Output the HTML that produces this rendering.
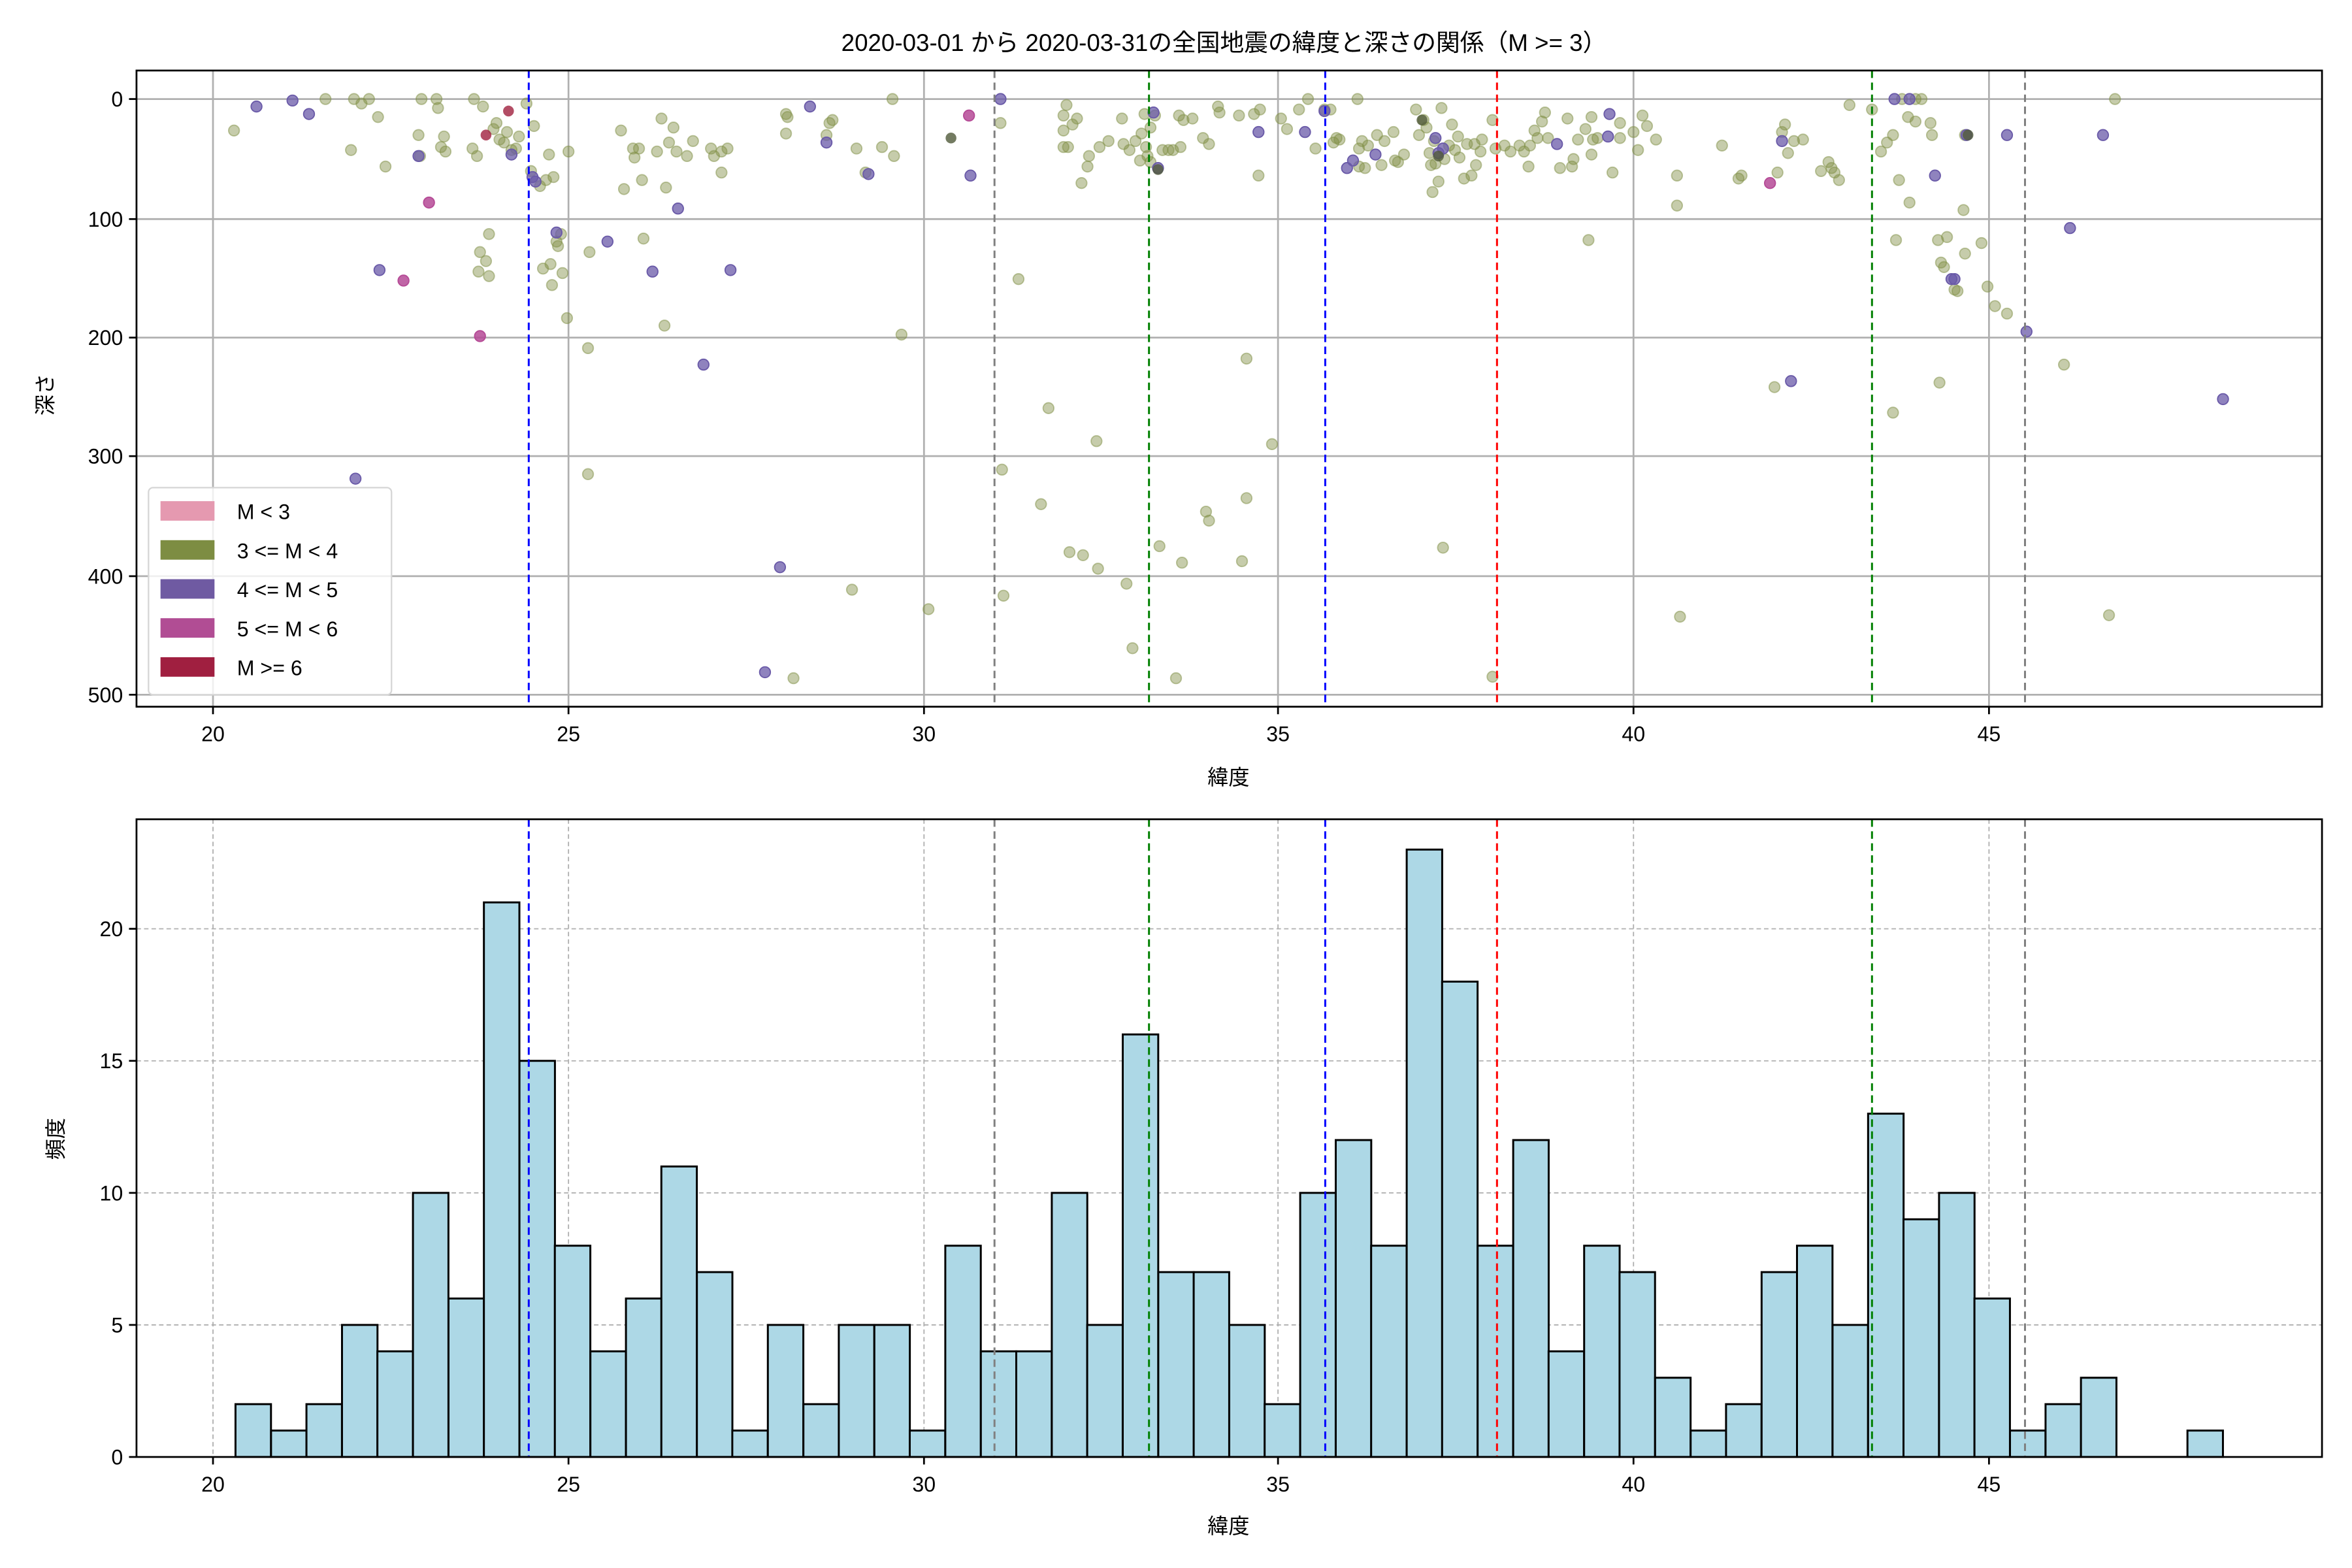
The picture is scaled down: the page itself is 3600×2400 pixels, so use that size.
<!DOCTYPE html>
<html><head><meta charset="utf-8"><style>
html,body{margin:0;padding:0;background:#fff;}
svg{display:block;}
text{font-family:"Liberation Sans","Noto Sans CJK JP",sans-serif;fill:#000;}
</style></head><body>
<svg width="3600" height="2400" viewBox="0 0 1568 1045" preserveAspectRatio="none" xmlns="http://www.w3.org/2000/svg">
<rect width="1568" height="1045" fill="#fff"/>
<text x="816" y="34" font-size="16" text-anchor="middle">2020-03-01 から 2020-03-31の全国地震の緯度と深さの関係（M &gt;= 3）</text>
<!-- TOP grid -->
<g stroke="#b0b0b0" stroke-width="1.2">
<line x1="142" y1="47" x2="142" y2="471"/><line x1="379" y1="47" x2="379" y2="471"/><line x1="616" y1="47" x2="616" y2="471"/><line x1="852" y1="47" x2="852" y2="471"/><line x1="1089" y1="47" x2="1089" y2="471"/><line x1="1326" y1="47" x2="1326" y2="471"/>
<line x1="91" y1="66" x2="1548" y2="66"/><line x1="91" y1="146" x2="1548" y2="146"/><line x1="91" y1="225" x2="1548" y2="225"/><line x1="91" y1="304" x2="1548" y2="304"/><line x1="91" y1="384" x2="1548" y2="384"/><line x1="91" y1="463" x2="1548" y2="463"/>
</g>
<g fill="#808f45" fill-opacity="0.45" stroke="#808f45" stroke-opacity="0.5" stroke-width="0.8">
<circle cx="156" cy="87" r="3.6"/><circle cx="217" cy="66" r="3.6"/><circle cx="234" cy="100" r="3.6"/><circle cx="236" cy="66" r="3.6"/><circle cx="241" cy="69" r="3.6"/><circle cx="246" cy="66" r="3.6"/><circle cx="252" cy="78" r="3.6"/><circle cx="257" cy="111" r="3.6"/><circle cx="279" cy="90" r="3.6"/><circle cx="281" cy="66" r="3.6"/><circle cx="280" cy="104" r="3.6"/><circle cx="291" cy="66" r="3.6"/><circle cx="292" cy="72" r="3.6"/><circle cx="296" cy="91" r="3.6"/><circle cx="297" cy="101" r="3.6"/><circle cx="294" cy="98" r="3.6"/><circle cx="316" cy="66" r="3.6"/><circle cx="315" cy="99" r="3.6"/><circle cx="318" cy="104" r="3.6"/><circle cx="322" cy="71" r="3.6"/><circle cx="320" cy="168" r="3.6"/><circle cx="319" cy="181" r="3.6"/><circle cx="324" cy="174" r="3.6"/><circle cx="326" cy="156" r="3.6"/><circle cx="326" cy="184" r="3.6"/><circle cx="329" cy="86" r="3.6"/><circle cx="331" cy="82" r="3.6"/><circle cx="333" cy="93" r="3.6"/><circle cx="336" cy="95" r="3.6"/><circle cx="338" cy="88" r="3.6"/><circle cx="341" cy="100" r="3.6"/><circle cx="344" cy="99" r="3.6"/><circle cx="346" cy="91" r="3.6"/><circle cx="351" cy="69" r="3.6"/><circle cx="356" cy="84" r="3.6"/><circle cx="354" cy="114" r="3.6"/><circle cx="360" cy="124" r="3.6"/><circle cx="362" cy="179" r="3.6"/><circle cx="364" cy="120" r="3.6"/><circle cx="366" cy="103" r="3.6"/><circle cx="367" cy="176" r="3.6"/><circle cx="368" cy="190" r="3.6"/><circle cx="369" cy="118" r="3.6"/><circle cx="371" cy="161" r="3.6"/><circle cx="372" cy="164" r="3.6"/><circle cx="374" cy="156" r="3.6"/><circle cx="375" cy="182" r="3.6"/><circle cx="379" cy="101" r="3.6"/><circle cx="392" cy="232" r="3.6"/><circle cx="393" cy="168" r="3.6"/><circle cx="378" cy="212" r="3.6"/><circle cx="392" cy="316" r="3.6"/><circle cx="414" cy="87" r="3.6"/><circle cx="416" cy="126" r="3.6"/><circle cx="422" cy="99" r="3.6"/><circle cx="423" cy="105" r="3.6"/><circle cx="426" cy="99" r="3.6"/><circle cx="429" cy="159" r="3.6"/><circle cx="428" cy="120" r="3.6"/><circle cx="438" cy="101" r="3.6"/><circle cx="441" cy="79" r="3.6"/><circle cx="443" cy="217" r="3.6"/><circle cx="444" cy="125" r="3.6"/><circle cx="446" cy="95" r="3.6"/><circle cx="449" cy="85" r="3.6"/><circle cx="451" cy="101" r="3.6"/><circle cx="458" cy="104" r="3.6"/><circle cx="462" cy="94" r="3.6"/><circle cx="474" cy="99" r="3.6"/><circle cx="476" cy="104" r="3.6"/><circle cx="481" cy="101" r="3.6"/><circle cx="485" cy="99" r="3.6"/><circle cx="481" cy="115" r="3.6"/><circle cx="524" cy="76" r="3.6"/><circle cx="524" cy="89" r="3.6"/><circle cx="525" cy="78" r="3.6"/><circle cx="551" cy="90" r="3.6"/><circle cx="553" cy="82" r="3.6"/><circle cx="555" cy="80" r="3.6"/><circle cx="571" cy="99" r="3.6"/><circle cx="577" cy="115" r="3.6"/><circle cx="588" cy="98" r="3.6"/><circle cx="595" cy="66" r="3.6"/><circle cx="596" cy="104" r="3.6"/><circle cx="568" cy="393" r="3.6"/><circle cx="601" cy="223" r="3.6"/><circle cx="619" cy="406" r="3.6"/><circle cx="529" cy="452" r="3.6"/><circle cx="667" cy="82" r="3.6"/><circle cx="668" cy="313" r="3.6"/><circle cx="669" cy="397" r="3.6"/><circle cx="679" cy="186" r="3.6"/><circle cx="699" cy="272" r="3.6"/><circle cx="694" cy="336" r="3.6"/><circle cx="709" cy="77" r="3.6"/><circle cx="709" cy="98" r="3.6"/><circle cx="709" cy="87" r="3.6"/><circle cx="711" cy="70" r="3.6"/><circle cx="712" cy="98" r="3.6"/><circle cx="715" cy="83" r="3.6"/><circle cx="718" cy="79" r="3.6"/><circle cx="721" cy="122" r="3.6"/><circle cx="725" cy="111" r="3.6"/><circle cx="726" cy="104" r="3.6"/><circle cx="733" cy="98" r="3.6"/><circle cx="739" cy="94" r="3.6"/><circle cx="748" cy="79" r="3.6"/><circle cx="749" cy="96" r="3.6"/><circle cx="753" cy="100" r="3.6"/><circle cx="757" cy="94" r="3.6"/><circle cx="760" cy="107" r="3.6"/><circle cx="761" cy="89" r="3.6"/><circle cx="763" cy="76" r="3.6"/><circle cx="764" cy="98" r="3.6"/><circle cx="765" cy="104" r="3.6"/><circle cx="767" cy="108" r="3.6"/><circle cx="767" cy="85" r="3.6"/><circle cx="770" cy="77" r="3.6"/><circle cx="775" cy="100" r="3.6"/><circle cx="779" cy="100" r="3.6"/><circle cx="782" cy="100" r="3.6"/><circle cx="786" cy="77" r="3.6"/><circle cx="789" cy="80" r="3.6"/><circle cx="787" cy="98" r="3.6"/><circle cx="795" cy="79" r="3.6"/><circle cx="802" cy="92" r="3.6"/><circle cx="806" cy="96" r="3.6"/><circle cx="812" cy="71" r="3.6"/><circle cx="813" cy="75" r="3.6"/><circle cx="826" cy="77" r="3.6"/><circle cx="836" cy="76" r="3.6"/><circle cx="839" cy="117" r="3.6"/><circle cx="848" cy="296" r="3.6"/><circle cx="831" cy="239" r="3.6"/><circle cx="831" cy="332" r="3.6"/><circle cx="806" cy="347" r="3.6"/><circle cx="804" cy="341" r="3.6"/><circle cx="828" cy="374" r="3.6"/><circle cx="788" cy="375" r="3.6"/><circle cx="773" cy="364" r="3.6"/><circle cx="751" cy="389" r="3.6"/><circle cx="732" cy="379" r="3.6"/><circle cx="722" cy="370" r="3.6"/><circle cx="713" cy="368" r="3.6"/><circle cx="731" cy="294" r="3.6"/><circle cx="755" cy="432" r="3.6"/><circle cx="784" cy="452" r="3.6"/><circle cx="840" cy="73" r="3.6"/><circle cx="854" cy="79" r="3.6"/><circle cx="858" cy="86" r="3.6"/><circle cx="866" cy="73" r="3.6"/><circle cx="872" cy="66" r="3.6"/><circle cx="877" cy="99" r="3.6"/><circle cx="883" cy="73" r="3.6"/><circle cx="887" cy="73" r="3.6"/><circle cx="889" cy="95" r="3.6"/><circle cx="891" cy="92" r="3.6"/><circle cx="893" cy="93" r="3.6"/><circle cx="905" cy="66" r="3.6"/><circle cx="906" cy="99" r="3.6"/><circle cx="906" cy="111" r="3.6"/><circle cx="908" cy="94" r="3.6"/><circle cx="910" cy="112" r="3.6"/><circle cx="912" cy="97" r="3.6"/><circle cx="918" cy="90" r="3.6"/><circle cx="921" cy="110" r="3.6"/><circle cx="923" cy="94" r="3.6"/><circle cx="929" cy="88" r="3.6"/><circle cx="930" cy="107" r="3.6"/><circle cx="932" cy="108" r="3.6"/><circle cx="936" cy="103" r="3.6"/><circle cx="944" cy="73" r="3.6"/><circle cx="946" cy="90" r="3.6"/><circle cx="949" cy="80" r="3.6"/><circle cx="951" cy="85" r="3.6"/><circle cx="953" cy="102" r="3.6"/><circle cx="954" cy="110" r="3.6"/><circle cx="956" cy="94" r="3.6"/><circle cx="957" cy="109" r="3.6"/><circle cx="959" cy="121" r="3.6"/><circle cx="961" cy="72" r="3.6"/><circle cx="963" cy="106" r="3.6"/><circle cx="966" cy="97" r="3.6"/><circle cx="968" cy="83" r="3.6"/><circle cx="970" cy="100" r="3.6"/><circle cx="972" cy="91" r="3.6"/><circle cx="973" cy="105" r="3.6"/><circle cx="976" cy="119" r="3.6"/><circle cx="978" cy="96" r="3.6"/><circle cx="981" cy="117" r="3.6"/><circle cx="983" cy="96" r="3.6"/><circle cx="984" cy="110" r="3.6"/><circle cx="987" cy="101" r="3.6"/><circle cx="988" cy="93" r="3.6"/><circle cx="995" cy="80" r="3.6"/><circle cx="997" cy="99" r="3.6"/><circle cx="1003" cy="97" r="3.6"/><circle cx="1007" cy="101" r="3.6"/><circle cx="1013" cy="97" r="3.6"/><circle cx="1016" cy="101" r="3.6"/><circle cx="1020" cy="97" r="3.6"/><circle cx="1023" cy="87" r="3.6"/><circle cx="1025" cy="92" r="3.6"/><circle cx="1028" cy="81" r="3.6"/><circle cx="1032" cy="92" r="3.6"/><circle cx="1040" cy="112" r="3.6"/><circle cx="1045" cy="79" r="3.6"/><circle cx="1048" cy="111" r="3.6"/><circle cx="1049" cy="106" r="3.6"/><circle cx="1052" cy="93" r="3.6"/><circle cx="1057" cy="86" r="3.6"/><circle cx="1061" cy="78" r="3.6"/><circle cx="1061" cy="103" r="3.6"/><circle cx="1062" cy="93" r="3.6"/><circle cx="1065" cy="92" r="3.6"/><circle cx="1075" cy="115" r="3.6"/><circle cx="1080" cy="82" r="3.6"/><circle cx="1080" cy="92" r="3.6"/><circle cx="1089" cy="88" r="3.6"/><circle cx="1092" cy="100" r="3.6"/><circle cx="1095" cy="77" r="3.6"/><circle cx="1098" cy="84" r="3.6"/><circle cx="1104" cy="93" r="3.6"/><circle cx="1118" cy="137" r="3.6"/><circle cx="1059" cy="160" r="3.6"/><circle cx="1148" cy="97" r="3.6"/><circle cx="1159" cy="119" r="3.6"/><circle cx="1161" cy="117" r="3.6"/><circle cx="1183" cy="258" r="3.6"/><circle cx="1185" cy="115" r="3.6"/><circle cx="1188" cy="88" r="3.6"/><circle cx="1190" cy="83" r="3.6"/><circle cx="1192" cy="102" r="3.6"/><circle cx="1196" cy="94" r="3.6"/><circle cx="1202" cy="93" r="3.6"/><circle cx="1214" cy="114" r="3.6"/><circle cx="1219" cy="108" r="3.6"/><circle cx="1221" cy="112" r="3.6"/><circle cx="1223" cy="115" r="3.6"/><circle cx="1226" cy="120" r="3.6"/><circle cx="1233" cy="70" r="3.6"/><circle cx="1248" cy="73" r="3.6"/><circle cx="1254" cy="101" r="3.6"/><circle cx="1258" cy="95" r="3.6"/><circle cx="1262" cy="90" r="3.6"/><circle cx="1264" cy="160" r="3.6"/><circle cx="1262" cy="275" r="3.6"/><circle cx="1268" cy="66" r="3.6"/><circle cx="1272" cy="78" r="3.6"/><circle cx="1273" cy="135" r="3.6"/><circle cx="1277" cy="66" r="3.6"/><circle cx="1281" cy="66" r="3.6"/><circle cx="1288" cy="90" r="3.6"/><circle cx="1292" cy="160" r="3.6"/><circle cx="1293" cy="255" r="3.6"/><circle cx="1294" cy="175" r="3.6"/><circle cx="1296" cy="178" r="3.6"/><circle cx="1298" cy="158" r="3.6"/><circle cx="1303" cy="193" r="3.6"/><circle cx="1305" cy="194" r="3.6"/><circle cx="1310" cy="169" r="3.6"/><circle cx="1321" cy="162" r="3.6"/><circle cx="1325" cy="191" r="3.6"/><circle cx="1330" cy="204" r="3.6"/><circle cx="1338" cy="209" r="3.6"/><circle cx="1376" cy="243" r="3.6"/><circle cx="1406" cy="410" r="3.6"/><circle cx="1410" cy="66" r="3.6"/><circle cx="1019" cy="111" r="3.6"/><circle cx="962" cy="365" r="3.6"/><circle cx="955" cy="128" r="3.6"/><circle cx="995" cy="451" r="3.6"/><circle cx="1120" cy="411" r="3.6"/><circle cx="1118" cy="117" r="3.6"/><circle cx="1277" cy="81" r="3.6"/><circle cx="1287" cy="82" r="3.6"/><circle cx="1310" cy="90" r="3.6"/><circle cx="1309" cy="140" r="3.6"/><circle cx="1266" cy="120" r="3.6"/><circle cx="1030" cy="75" r="3.6"/>
</g>
<g fill="#6a5aa8" fill-opacity="0.75" stroke="#6a5aa8" stroke-width="0.8">
<circle cx="171" cy="71" r="3.6"/><circle cx="195" cy="67" r="3.6"/><circle cx="206" cy="76" r="3.6"/><circle cx="253" cy="180" r="3.6"/><circle cx="279" cy="104" r="3.6"/><circle cx="341" cy="103" r="3.6"/><circle cx="355" cy="118" r="3.6"/><circle cx="357" cy="121" r="3.6"/><circle cx="371" cy="155" r="3.6"/><circle cx="405" cy="161" r="3.6"/><circle cx="435" cy="181" r="3.6"/><circle cx="452" cy="139" r="3.6"/><circle cx="469" cy="243" r="3.6"/><circle cx="487" cy="180" r="3.6"/><circle cx="540" cy="71" r="3.6"/><circle cx="551" cy="95" r="3.6"/><circle cx="579" cy="116" r="3.6"/><circle cx="647" cy="117" r="3.6"/><circle cx="667" cy="66" r="3.6"/><circle cx="769" cy="75" r="3.6"/><circle cx="772" cy="112" r="3.6"/><circle cx="839" cy="88" r="3.6"/><circle cx="870" cy="88" r="3.6"/><circle cx="883" cy="74" r="3.6"/><circle cx="898" cy="112" r="3.6"/><circle cx="902" cy="107" r="3.6"/><circle cx="917" cy="103" r="3.6"/><circle cx="957" cy="92" r="3.6"/><circle cx="959" cy="102" r="3.6"/><circle cx="962" cy="99" r="3.6"/><circle cx="1038" cy="96" r="3.6"/><circle cx="1073" cy="76" r="3.6"/><circle cx="1072" cy="91" r="3.6"/><circle cx="1188" cy="94" r="3.6"/><circle cx="1194" cy="254" r="3.6"/><circle cx="1263" cy="66" r="3.6"/><circle cx="1273" cy="66" r="3.6"/><circle cx="1290" cy="117" r="3.6"/><circle cx="1301" cy="186" r="3.6"/><circle cx="1351" cy="221" r="3.6"/><circle cx="1380" cy="152" r="3.6"/><circle cx="1402" cy="90" r="3.6"/><circle cx="1482" cy="266" r="3.6"/><circle cx="237" cy="319" r="3.6"/><circle cx="520" cy="378" r="3.6"/><circle cx="510" cy="448" r="3.6"/><circle cx="1311" cy="90" r="3.6"/><circle cx="1338" cy="90" r="3.6"/><circle cx="1303" cy="186" r="3.6"/>
</g>
<g fill="#b54a96" fill-opacity="0.85" stroke="#b54a96" stroke-width="0.8">
<circle cx="286" cy="135" r="3.6"/><circle cx="269" cy="187" r="3.6"/><circle cx="320" cy="224" r="3.6"/><circle cx="646" cy="77" r="3.6"/><circle cx="1180" cy="122" r="3.6"/>
</g>
<g fill="#a0203f" fill-opacity="0.8"><circle cx="339" cy="74" r="3.6"/><circle cx="324" cy="90" r="3.6"/></g>
<g fill="#505a3a" fill-opacity="0.8"><circle cx="634" cy="92" r="3.6"/><circle cx="772" cy="113" r="3.6"/><circle cx="1312" cy="90" r="3.6"/><circle cx="959" cy="104" r="3.6"/><circle cx="948" cy="80" r="3.6"/></g>
<g stroke-width="1.3" stroke-dasharray="5,3" fill="none">
<line x1="352.5" y1="47" x2="352.5" y2="471" stroke="#0000ff"/><line x1="883.5" y1="47" x2="883.5" y2="471" stroke="#0000ff"/>
<line x1="663" y1="47" x2="663" y2="471" stroke="#808080"/><line x1="1350" y1="47" x2="1350" y2="471" stroke="#808080"/>
<line x1="766" y1="47" x2="766" y2="471" stroke="#008000"/><line x1="1248" y1="47" x2="1248" y2="471" stroke="#008000"/>
<line x1="998" y1="47" x2="998" y2="471" stroke="#ff0000"/>
</g>
<!-- legend -->
<rect x="99" y="325" width="162" height="138" rx="3" fill="#fff" fill-opacity="0.8" stroke="#d6d6d6" stroke-width="1"/>
<rect x="107" y="334" width="36" height="13" fill="#e599b0"/><rect x="107" y="360" width="36" height="13" fill="#7d8d42"/><rect x="107" y="386" width="36" height="13" fill="#6f5aa2"/><rect x="107" y="412" width="36" height="13" fill="#b14d94"/><rect x="107" y="438" width="36" height="13" fill="#a01f40"/>
<g font-size="14"><text x="158" y="346">M &lt; 3</text><text x="158" y="372">3 &lt;= M &lt; 4</text><text x="158" y="398">4 &lt;= M &lt; 5</text><text x="158" y="424">5 &lt;= M &lt; 6</text><text x="158" y="450">M &gt;= 6</text></g>
<rect x="91" y="47" width="1457" height="424" fill="none" stroke="#000" stroke-width="1.2"/>
<g stroke="#000" stroke-width="1.2">
<line x1="142" y1="471" x2="142" y2="476"/><line x1="379" y1="471" x2="379" y2="476"/><line x1="616" y1="471" x2="616" y2="476"/><line x1="852" y1="471" x2="852" y2="476"/><line x1="1089" y1="471" x2="1089" y2="476"/><line x1="1326" y1="471" x2="1326" y2="476"/>
<line x1="86" y1="66" x2="91" y2="66"/><line x1="86" y1="146" x2="91" y2="146"/><line x1="86" y1="225" x2="91" y2="225"/><line x1="86" y1="304" x2="91" y2="304"/><line x1="86" y1="384" x2="91" y2="384"/><line x1="86" y1="463" x2="91" y2="463"/>
</g>
<g font-size="14" text-anchor="middle"><text x="142" y="494">20</text><text x="379" y="494">25</text><text x="616" y="494">30</text><text x="852" y="494">35</text><text x="1089" y="494">40</text><text x="1326" y="494">45</text></g>
<g font-size="14" text-anchor="end"><text x="82" y="71">0</text><text x="82" y="151">100</text><text x="82" y="230">200</text><text x="82" y="309">300</text><text x="82" y="389">400</text><text x="82" y="468">500</text></g>
<text x="819" y="523" font-size="14" text-anchor="middle">緯度</text>
<text transform="translate(35,263) rotate(-90)" font-size="14" text-anchor="middle">深さ</text>
<!-- BOTTOM -->
<g stroke="#b0b0b0" stroke-width="0.8" stroke-dasharray="3,2">
<line x1="142" y1="546" x2="142" y2="971"/><line x1="379" y1="546" x2="379" y2="971"/><line x1="616" y1="546" x2="616" y2="971"/><line x1="852" y1="546" x2="852" y2="971"/><line x1="1089" y1="546" x2="1089" y2="971"/><line x1="1326" y1="546" x2="1326" y2="971"/>
<line x1="91" y1="883" x2="1548" y2="883"/><line x1="91" y1="795" x2="1548" y2="795"/><line x1="91" y1="707" x2="1548" y2="707"/><line x1="91" y1="619" x2="1548" y2="619"/>
</g>
<g fill="#add8e6" stroke="#000" stroke-width="1.3">
<rect x="157.0" y="935.8" width="23.66" height="35.2"/><rect x="180.7" y="953.4" width="23.66" height="17.6"/><rect x="204.3" y="935.8" width="23.66" height="35.2"/><rect x="228.0" y="883.0" width="23.66" height="88.0"/><rect x="251.6" y="900.6" width="23.66" height="70.4"/><rect x="275.3" y="795.0" width="23.66" height="176.0"/><rect x="299.0" y="865.4" width="23.66" height="105.6"/><rect x="322.6" y="601.4" width="23.66" height="369.6"/><rect x="346.3" y="707.0" width="23.66" height="264.0"/><rect x="369.9" y="830.2" width="23.66" height="140.8"/><rect x="393.6" y="900.6" width="23.66" height="70.4"/><rect x="417.3" y="865.4" width="23.66" height="105.6"/><rect x="440.9" y="777.4" width="23.66" height="193.6"/><rect x="464.6" y="847.8" width="23.66" height="123.2"/><rect x="488.2" y="953.4" width="23.66" height="17.6"/><rect x="511.9" y="883.0" width="23.66" height="88.0"/><rect x="535.6" y="935.8" width="23.66" height="35.2"/><rect x="559.2" y="883.0" width="23.66" height="88.0"/><rect x="582.9" y="883.0" width="23.66" height="88.0"/><rect x="606.5" y="953.4" width="23.66" height="17.6"/><rect x="630.2" y="830.2" width="23.66" height="140.8"/><rect x="653.9" y="900.6" width="23.66" height="70.4"/><rect x="677.5" y="900.6" width="23.66" height="70.4"/><rect x="701.2" y="795.0" width="23.66" height="176.0"/><rect x="724.8" y="883.0" width="23.66" height="88.0"/><rect x="748.5" y="689.4" width="23.66" height="281.6"/><rect x="772.2" y="847.8" width="23.66" height="123.2"/><rect x="795.8" y="847.8" width="23.66" height="123.2"/><rect x="819.5" y="883.0" width="23.66" height="88.0"/><rect x="843.1" y="935.8" width="23.66" height="35.2"/><rect x="866.8" y="795.0" width="23.66" height="176.0"/><rect x="890.5" y="759.8" width="23.66" height="211.2"/><rect x="914.1" y="830.2" width="23.66" height="140.8"/><rect x="937.8" y="566.2" width="23.66" height="404.8"/><rect x="961.4" y="654.2" width="23.66" height="316.8"/><rect x="985.1" y="830.2" width="23.66" height="140.8"/><rect x="1008.8" y="759.8" width="23.66" height="211.2"/><rect x="1032.4" y="900.6" width="23.66" height="70.4"/><rect x="1056.1" y="830.2" width="23.66" height="140.8"/><rect x="1079.7" y="847.8" width="23.66" height="123.2"/><rect x="1103.4" y="918.2" width="23.66" height="52.8"/><rect x="1127.1" y="953.4" width="23.66" height="17.6"/><rect x="1150.7" y="935.8" width="23.66" height="35.2"/><rect x="1174.4" y="847.8" width="23.66" height="123.2"/><rect x="1198.0" y="830.2" width="23.66" height="140.8"/><rect x="1221.7" y="883.0" width="23.66" height="88.0"/><rect x="1245.4" y="742.2" width="23.66" height="228.8"/><rect x="1269.0" y="812.6" width="23.66" height="158.4"/><rect x="1292.7" y="795.0" width="23.66" height="176.0"/><rect x="1316.3" y="865.4" width="23.66" height="105.6"/><rect x="1340.0" y="953.4" width="23.66" height="17.6"/><rect x="1363.7" y="935.8" width="23.66" height="35.2"/><rect x="1387.3" y="918.2" width="23.66" height="52.8"/><rect x="1458.3" y="953.4" width="23.66" height="17.6"/>
</g>
<line x1="1411" y1="971" x2="1458" y2="971" stroke="#000" stroke-width="1.3"/>
<g stroke-width="1.3" stroke-dasharray="5,3" fill="none">
<line x1="352.5" y1="546" x2="352.5" y2="971" stroke="#0000ff"/><line x1="883.5" y1="546" x2="883.5" y2="971" stroke="#0000ff"/>
<line x1="663" y1="546" x2="663" y2="971" stroke="#808080"/><line x1="1350" y1="546" x2="1350" y2="971" stroke="#808080"/>
<line x1="766" y1="546" x2="766" y2="971" stroke="#008000"/><line x1="1248" y1="546" x2="1248" y2="971" stroke="#008000"/>
<line x1="998" y1="546" x2="998" y2="971" stroke="#ff0000"/>
</g>
<rect x="91" y="546" width="1457" height="425" fill="none" stroke="#000" stroke-width="1.2"/>
<g stroke="#000" stroke-width="1.2">
<line x1="142" y1="971" x2="142" y2="976"/><line x1="379" y1="971" x2="379" y2="976"/><line x1="616" y1="971" x2="616" y2="976"/><line x1="852" y1="971" x2="852" y2="976"/><line x1="1089" y1="971" x2="1089" y2="976"/><line x1="1326" y1="971" x2="1326" y2="976"/>
<line x1="86" y1="971" x2="91" y2="971"/><line x1="86" y1="883" x2="91" y2="883"/><line x1="86" y1="795" x2="91" y2="795"/><line x1="86" y1="707" x2="91" y2="707"/><line x1="86" y1="619" x2="91" y2="619"/>
</g>
<g font-size="14" text-anchor="middle"><text x="142" y="994">20</text><text x="379" y="994">25</text><text x="616" y="994">30</text><text x="852" y="994">35</text><text x="1089" y="994">40</text><text x="1326" y="994">45</text></g>
<g font-size="14" text-anchor="end"><text x="82" y="976">0</text><text x="82" y="888">5</text><text x="82" y="800">10</text><text x="82" y="712">15</text><text x="82" y="624">20</text></g>
<text x="819" y="1022" font-size="14" text-anchor="middle">緯度</text>
<text transform="translate(42,759) rotate(-90)" font-size="14" text-anchor="middle">頻度</text>
</svg>
</body></html>
